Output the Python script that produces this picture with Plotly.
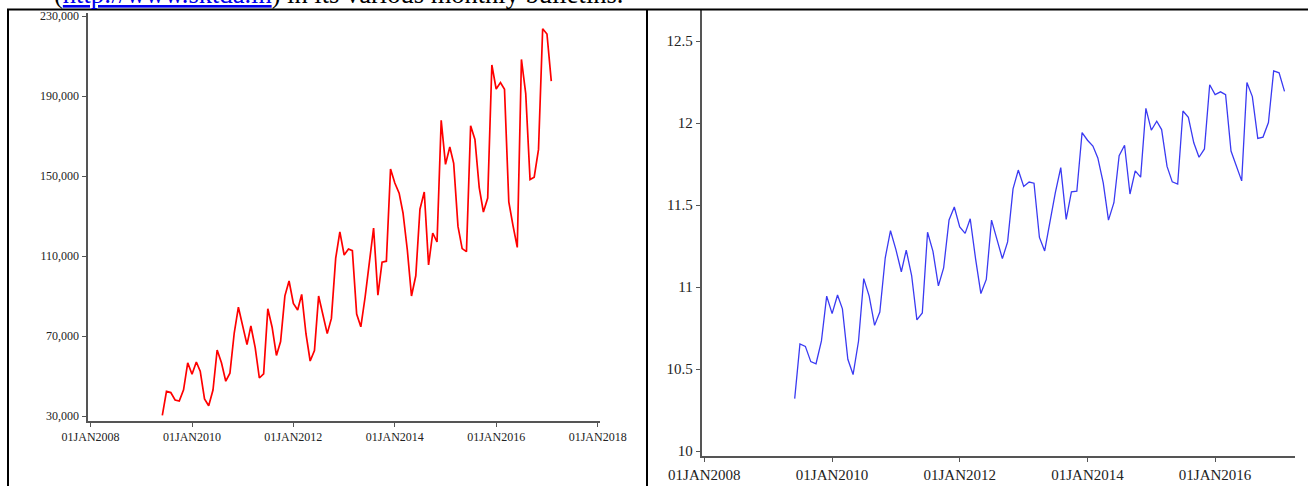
import pandas as pd
import plotly.graph_objects as go

# ---------------- data ----------------
start_month = "2009-06-01"
arrivals = [
    30300, 42300, 41700, 38000, 37500, 43100, 56600, 50900, 57000, 52400,
    38500, 35100, 43000, 63000, 56600, 47400, 51400, 71500, 84400, 75200,
    65700, 75000, 64200, 49000, 51100, 83600, 74400, 60300, 67200, 90100,
    97500, 86300, 83000, 90800, 71000, 57500, 62700, 90000, 80000, 71200,
    78800, 108900, 122100, 110500, 113500, 112700, 81000, 74600, 89500, 106500,
    124000, 90400, 106900, 107400, 153500, 146500, 141400, 131500, 113000, 90000,
    100100, 133400, 142000, 105500, 121500, 117000, 177800, 155800, 164500, 156300,
    124800, 113700, 112200, 175100, 168300, 144200, 132000, 139000, 205500, 193500,
    196700, 193400, 137100, 125300, 114300, 208300, 191200, 148200, 149400, 163300,
    223600, 221000, 197400,
]
log_arrivals = [
    10.319, 10.653, 10.638, 10.545, 10.532, 10.671, 10.944, 10.838, 10.951, 10.867,
    10.559, 10.466, 10.669, 11.051, 10.944, 10.766, 10.847, 11.178, 11.343, 11.228,
    11.093, 11.225, 11.070, 10.800, 10.842, 11.334, 11.217, 11.007, 11.116, 11.409,
    11.488, 11.366, 11.327, 11.416, 11.170, 10.960, 11.046, 11.408, 11.290, 11.173,
    11.275, 11.598, 11.713, 11.613, 11.640, 11.633, 11.302, 11.220, 11.402, 11.576,
    11.728, 11.412, 11.580, 11.584, 11.942, 11.895, 11.859, 11.787, 11.635, 11.408,
    11.514, 11.801, 11.864, 11.567, 11.708, 11.670, 12.089, 11.956, 12.011, 11.960,
    11.735, 11.641, 11.628, 12.073, 12.034, 11.879, 11.791, 11.842, 12.233, 12.173,
    12.190, 12.173, 11.829, 11.738, 11.647, 12.247, 12.161, 11.906, 11.914, 12.003,
    12.318, 12.306, 12.193,
]
months = pd.date_range(start_month, periods=len(arrivals), freq="MS")

left_xtick_vals = ["2008-01-01", "2010-01-01", "2012-01-01", "2014-01-01", "2016-01-01", "2018-01-01"]
left_xtick_text = ["01JAN2008", "01JAN2010", "01JAN2012", "01JAN2014", "01JAN2016", "01JAN2018"]
left_ytick_vals = [30000, 70000, 110000, 150000, 190000, 230000]
right_xtick_vals = ["2008-01-01", "2010-01-01", "2012-01-01", "2014-01-01", "2016-01-01"]
right_xtick_text = ["01JAN2008", "01JAN2010", "01JAN2012", "01JAN2014", "01JAN2016"]
right_ytick_vals = [10, 10.5, 11, 11.5, 12, 12.5]

header_text = ('(<span style="color:#0000ee"><u>http://www.sktda.in</u></span>) '
               'in its various monthly bulletins.')

# ---------------- layout helpers ----------------
W, H = 1308, 486
def px(x):
    return x / W
def py(y):
    return 1 - y / H

SERIF = "Liberation Serif, Times New Roman, serif"

fig = go.Figure()
fig.add_trace(go.Scatter(x=months, y=arrivals, mode="lines",
                         line=dict(color="#ff0000", width=1.7),
                         xaxis="x", yaxis="y", showlegend=False))
fig.add_trace(go.Scatter(x=months, y=log_arrivals, mode="lines",
                         line=dict(color="#3a3af2", width=1.3),
                         xaxis="x2", yaxis="y2", showlegend=False))

axis_common = dict(showgrid=False, zeroline=False, showline=True, automargin=False,
                   ticks="outside", ticklen=4, tickwidth=1,
                   tickcolor="#555", linecolor="#555", linewidth=2)

fig.update_layout(
    template="none",
    width=W, height=H, autosize=False,
    margin=dict(l=0, r=0, t=0, b=0, pad=0),
    paper_bgcolor="white", plot_bgcolor="white",
    xaxis=dict(domain=[px(87.5), px(600)], anchor="y", type="date",
               range=["2007-12-10", "2018-01-18"],
               tickvals=left_xtick_vals, ticktext=left_xtick_text,
               tickfont=dict(family=SERIF, size=12, color="#222"),
               **axis_common),
    yaxis=dict(domain=[py(421), py(13)], anchor="x",
               range=[27500, 231500], tickvals=left_ytick_vals,
               tickformat=",", tickfont=dict(family=SERIF, size=12, color="#222"),
               **axis_common),
    xaxis2=dict(domain=[px(701.7), px(1295)], anchor="y2", type="date",
                range=["2007-12-17", "2017-04-02"],
                tickvals=right_xtick_vals, ticktext=right_xtick_text,
                tickfont=dict(family=SERIF, size=15, color="#222"),
                **axis_common),
    yaxis2=dict(domain=[py(456), py(10)], anchor="x2",
                range=[9.9695, 12.689], tickvals=right_ytick_vals,
                tickfont=dict(family=SERIF, size=15, color="#222"),
                **axis_common),
    shapes=[
        dict(type="line", xref="paper", yref="paper", x0=px(7), x1=1, y0=py(9.5), y1=py(9.5),
             line=dict(color="black", width=2)),
        dict(type="line", xref="paper", yref="paper", x0=px(8), x1=px(8), y0=py(9.5), y1=0,
             line=dict(color="black", width=2)),
        dict(type="line", xref="paper", yref="paper", x0=px(647), x1=px(647), y0=py(9.5), y1=0,
             line=dict(color="black", width=2)),
    ],
    annotations=[
        dict(text=header_text, xref="paper", yref="paper", x=px(52), y=py(11),
             xanchor="left", yanchor="bottom", showarrow=False,
             font=dict(family=SERIF, size=26.5, color="black")),
    ],
)

fig.write_html("out.html")
